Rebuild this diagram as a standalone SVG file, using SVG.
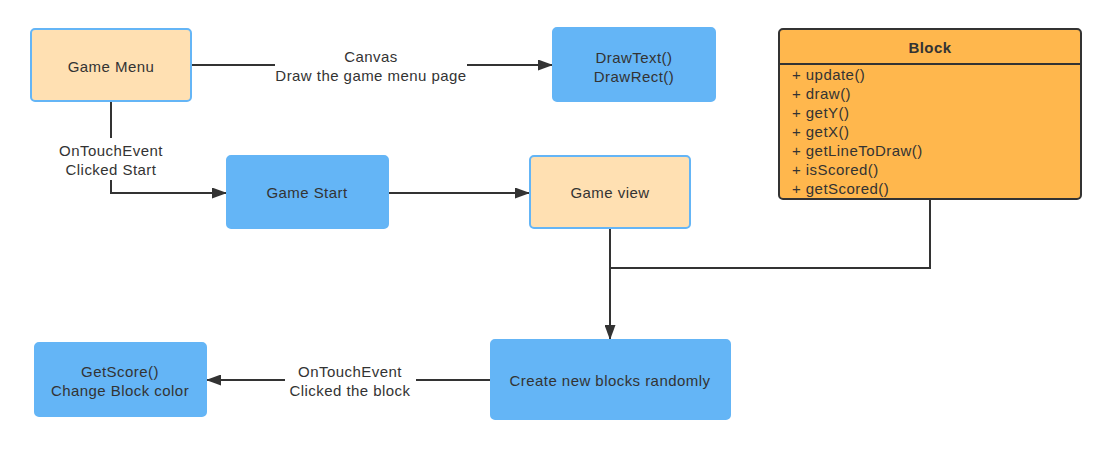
<svg xmlns="http://www.w3.org/2000/svg" width="1115" height="455" viewBox="0 0 1115 455">
<style>
text{font-family:"Liberation Sans",Arial,sans-serif;font-size:15px;letter-spacing:0.45px;fill:#333;}
.c{text-anchor:middle;}
.peach{fill:#ffe0b2;stroke:#64b5f6;stroke-width:2;}
.blue{fill:#64b5f6;stroke:#64b5f6;stroke-width:2;}
.ln{fill:none;stroke:#333;stroke-width:2;}
</style>
<defs>
<marker id="ah" viewBox="0 0 15 11" refX="15" refY="5.5" markerWidth="15" markerHeight="11" markerUnits="userSpaceOnUse" orient="auto">
<path d="M0,0 L15,5.5 L0,11 Z" fill="#333"/>
</marker>
</defs>
<g id="connectors">
<path class="ln" d="M191,65 H275 M467,65 H553" marker-end="url(#ah)"/>
<text class="c" x="371" y="62">Canvas</text>
<text class="c" x="371" y="81">Draw the game menu page</text>
<path class="ln" d="M111,101 V138 M111,180 V193 H227" marker-end="url(#ah)"/>
<text class="c" x="111" y="156">OnTouchEvent</text>
<text class="c" x="111" y="175">Clicked Start</text>
<path class="ln" d="M388,193 H530" marker-end="url(#ah)"/>
<path class="ln" d="M610,228 V340" marker-end="url(#ah)"/>
<path class="ln" d="M930,199 V268 H610"/>
<path class="ln" d="M491,380 H416 M285,380 H206" marker-end="url(#ah)"/>
<text class="c" x="350" y="377">OnTouchEvent</text>
<text class="c" x="350" y="396">Clicked the block</text>
</g>
<g id="game-menu">
<rect class="peach" x="31" y="29" width="160" height="72" rx="4"/>
<text class="c" x="111" y="72">Game Menu</text>
</g>
<g id="draw-box">
<rect class="blue" x="553" y="28" width="162" height="73" rx="4"/>
<text class="c" x="634" y="63">DrawText()</text>
<text class="c" x="634" y="82">DrawRect()</text>
</g>
<g id="block">
<rect x="779" y="29" width="302" height="170" rx="4" fill="#ffb74d" stroke="#333" stroke-width="2"/>
<line x1="779" y1="64" x2="1081" y2="64" stroke="#333" stroke-width="2"/>
<text class="c" x="930" y="53" style="font-weight:bold">Block</text>
<text x="792" y="80">+ update()</text>
<text x="792" y="99">+ draw()</text>
<text x="792" y="118">+ getY()</text>
<text x="792" y="137">+ getX()</text>
<text x="792" y="156">+ getLineToDraw()</text>
<text x="792" y="175">+ isScored()</text>
<text x="792" y="194">+ getScored()</text>
</g>
<g id="game-start">
<rect class="blue" x="227" y="156" width="161" height="72" rx="4"/>
<text class="c" x="307" y="198">Game Start</text>
</g>
<g id="game-view">
<rect class="peach" x="530" y="156" width="160" height="72" rx="4"/>
<text class="c" x="610" y="198">Game view</text>
</g>
<g id="create-blocks">
<rect class="blue" x="491" y="340" width="239" height="79" rx="4"/>
<text class="c" x="610" y="386">Create new blocks randomly</text>
</g>
<g id="get-score">
<rect class="blue" x="35" y="343" width="171" height="73" rx="4"/>
<text class="c" x="120" y="377">GetScore()</text>
<text class="c" x="120" y="396">Change Block color</text>
</g>
</svg>
